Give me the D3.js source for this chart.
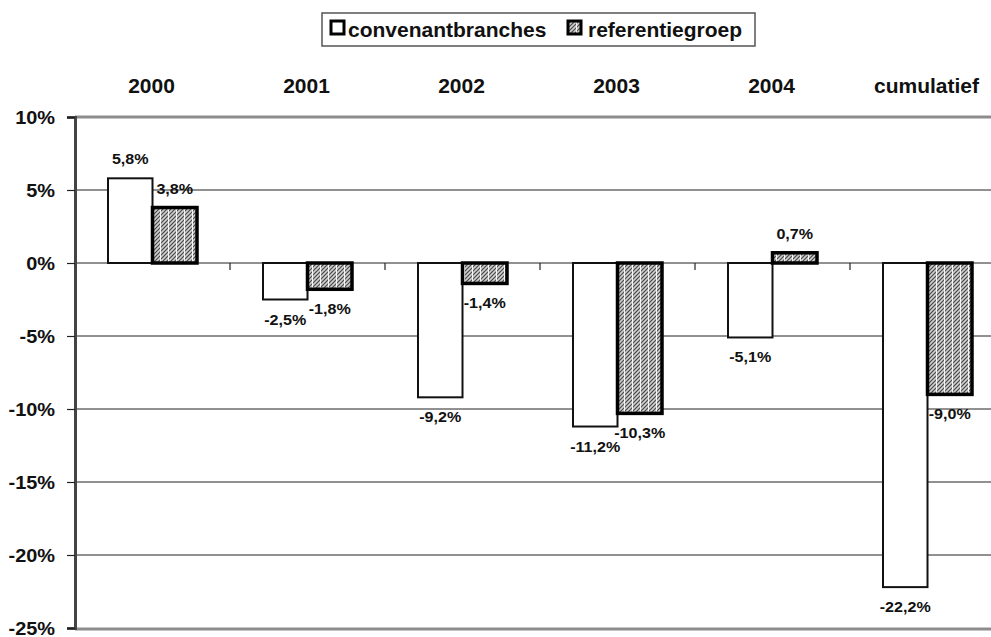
<!DOCTYPE html>
<html>
<head>
<meta charset="utf-8">
<script src="https://cdn.jsdelivr.net/npm/d3@7"></script>
<style>
  html, body { margin: 0; padding: 0; background: #fff; }
  svg { display: block; overflow: hidden; }
  text { font-family: "Liberation Sans", Arial, sans-serif; font-weight: bold; fill: #111; }
</style>
</head>
<body>
<script>
const categories = ["2000", "2001", "2002", "2003", "2004", "cumulatief"];
const convenantbranches = [5.8, -2.5, -9.2, -11.2, -5.1, -22.2];
const referentiegroep = [3.8, -1.8, -1.4, -10.3, 0.7, -9.0];
const seriesNames = ["convenantbranches", "referentiegroep"];
const yTicks = [10, 5, 0, -5, -10, -15, -20, -25];

(function () {
const W = 991, H = 637;
const svg = d3.select("body").append("svg").attr("width", W).attr("height", H);

const defs = svg.append("defs");
const pat = defs.append("pattern").attr("id", "hatch")
  .attr("patternUnits", "userSpaceOnUse").attr("width", 8).attr("height", 8);
pat.append("rect").attr("width", 8).attr("height", 8).attr("fill", "#cfcfcf");
pat.append("path").attr("d", "M-2,2 L2,-2 M-2,6 L6,-2 M-2,10 L10,-2 M2,10 L10,2 M6,10 L10,6")
  .attr("stroke", "#4a4a4a").attr("stroke-width", 1.2);
pat.append("rect").attr("x", 0).attr("y", 0).attr("width", 1).attr("height", 8).attr("fill", "#fff").attr("opacity", 0.9);

const pLeft = 75, pTop = 117, pBottom = 628;
const x = d3.scaleBand().domain(categories).range([pLeft, pLeft + 155 * 6]).padding(0);
const y = d3.scaleLinear().domain([-25, 10]).range([pBottom, pTop]);
const barW = 44.5;

const fmt = v => d3.format(".1f")(v).replace(".", ",").replace("\u2212", "-") + "%";

// gridlines
svg.append("g").selectAll("line").data(yTicks.filter(t => t !== 10 && t !== -25)).join("line")
  .attr("x1", pLeft).attr("x2", W).attr("y1", d => y(d)).attr("y2", d => y(d))
  .attr("stroke", "#222").attr("stroke-width", 1);

// top and bottom borders
svg.append("line").attr("x1", pLeft).attr("x2", W).attr("y1", y(10)).attr("y2", y(10))
  .attr("stroke", "#8c8c8c").attr("stroke-width", 3);
svg.append("line").attr("x1", pLeft).attr("x2", W).attr("y1", y(-25) + 1).attr("y2", y(-25) + 1)
  .attr("stroke", "#8c8c8c").attr("stroke-width", 3);

// y axis
const yAxis = svg.append("g").attr("transform", `translate(${pLeft},0)`)
  .call(d3.axisLeft(y).tickValues(yTicks).tickSize(8).tickFormat(d => d + "%"));
yAxis.select(".domain").attr("stroke", "#444").attr("stroke-width", 3);
yAxis.selectAll(".tick line").attr("stroke", "#222").attr("stroke-width", 1.2);
yAxis.selectAll(".tick text").remove();
yAxis.selectAll(".tick").append("text")
  .attr("text-anchor", "end")
  .attr("transform", "translate(-20,6) scale(1.12,1)")
  .style("font-size", "17.8px")
  .text(d => d + "%");

// category ticks below zero line
const boundaries = categories.slice(1).map(c => x(c));
svg.append("g").selectAll("line").data(boundaries).join("line")
  .attr("x1", d => d).attr("x2", d => d).attr("y1", y(0)).attr("y2", y(0) + 7)
  .attr("stroke", "#222").attr("stroke-width", 1.2);

// category labels on top
svg.append("g").selectAll("text").data(categories).join("text")
  .attr("x", d => x(d) + x.bandwidth() / 2 - 1).attr("y", 93)
  .attr("text-anchor", "middle").style("font-size", "21px")
  .text(d => d);

// bars
const cx = c => x(c) + x.bandwidth() / 2;
const g = svg.append("g");
g.selectAll("rect.c").data(categories).join("rect").attr("class", "c")
  .attr("x", (d) => cx(d) - barW)
  .attr("y", (d, i) => y(Math.max(0, convenantbranches[i])))
  .attr("width", barW)
  .attr("height", (d, i) => Math.abs(y(convenantbranches[i]) - y(0)))
  .attr("fill", "#fff").attr("stroke", "#111").attr("stroke-width", 2);
g.selectAll("rect.r").data(categories).join("rect").attr("class", "r")
  .attr("x", (d) => cx(d))
  .attr("y", (d, i) => y(Math.max(0, referentiegroep[i])))
  .attr("width", barW)
  .attr("height", (d, i) => Math.abs(y(referentiegroep[i]) - y(0)))
  .attr("fill", "url(#hatch)").attr("stroke", "#000").attr("stroke-width", 3.5);

// data labels
function labels(vals, off) {
  svg.append("g").selectAll("text").data(categories).join("text")
    .attr("text-anchor", "middle")
    .attr("transform", (d, i) => {
      const v = vals[i];
      const yy = v >= 0 ? y(v) - 19 + 5 : y(v) + 20 + 5;
      return `translate(${cx(d) + off},${yy}) scale(1.15,1)`;
    })
    .style("font-size", "14px")
    .text((d, i) => fmt(vals[i]));
}
labels(convenantbranches, -barW / 2);
labels(referentiegroep, barW / 2);

// legend
const lg = svg.append("g");
lg.append("rect").attr("x", 322).attr("y", 13).attr("width", 433).attr("height", 33)
  .attr("fill", "#fff").attr("stroke", "#555").attr("stroke-width", 1.5);
lg.append("rect").attr("x", 331).attr("y", 21).attr("width", 13).attr("height", 13)
  .attr("fill", "#fff").attr("stroke", "#000").attr("stroke-width", 3);
lg.append("text").attr("x", 348).attr("y", 36.5).style("font-size", "21px").text(seriesNames[0]);
lg.append("rect").attr("x", 568).attr("y", 21).attr("width", 13).attr("height", 13)
  .attr("fill", "url(#hatch)").attr("stroke", "#000").attr("stroke-width", 3);
lg.append("text").attr("x", 588).attr("y", 36.5).style("font-size", "21px").text(seriesNames[1]);
})();
</script>
</body>
</html>
